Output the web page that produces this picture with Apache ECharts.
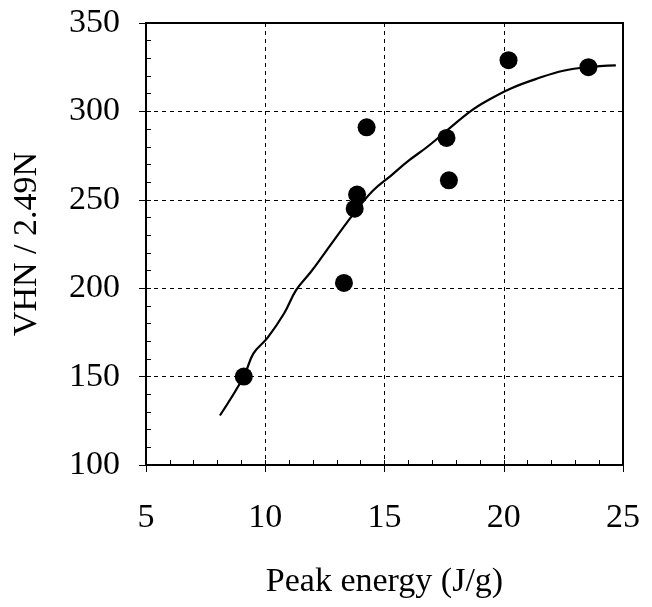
<!DOCTYPE html>
<html>
<head>
<meta charset="utf-8">
<script src="https://cdn.jsdelivr.net/npm/echarts@6/dist/echarts.min.js"></script>
<style>
  html, body { margin: 0; padding: 0; background: #fff; }
  #chart { width: 652px; height: 607px; }
</style>
</head>
<body>
<div id="chart"></div>
<script>
// measured points: peak energy (J/g) vs hardness
const energy = [9.1, 13.3, 13.75, 13.85, 14.25, 17.6, 17.7, 20.2, 23.55]
const hardness = [150, 203, 245, 253, 291, 285, 261, 329, 325]

// fitted curve
const fitX = [8.1, 9.1, 9.5, 10.1, 10.8, 11.3, 11.9, 12.5, 13.7, 14.5, 15.3, 16.0, 16.8, 17.6, 18.6, 19.3, 20.3, 21.5, 22.5, 23.5, 24.7]
const fitY = [128, 150, 163, 172, 186, 199, 209, 220, 242, 255, 264, 272, 280, 289, 300, 306, 313, 319, 323, 325, 326]

const font = 'Liberation Serif, Times New Roman, serif'

const chart = echarts.init(document.getElementById('chart'))

const axisCommon = {
  axisLine: { lineStyle: { color: '#000', width: 2 } },
  axisTick: { show: true, inside: true, length: 5, lineStyle: { color: '#000', width: 1 } },
  minorTick: { show: true, splitNumber: 5, length: 5, lineStyle: { color: '#000', width: 1 } },
  splitLine: { show: true, lineStyle: { color: '#000', width: 1, type: [4, 4] } },
  axisLabel: { color: '#000', fontFamily: font, fontSize: 34 },
  nameTextStyle: { color: '#000', fontFamily: font, fontSize: 34 },
}

// overlay axes only for the outward major ticks
const outerTicks = {
  axisLine: { show: false },
  axisTick: { show: true, inside: false, length: 7, lineStyle: { color: '#000', width: 1 } },
  axisLabel: { show: false },
  splitLine: { show: false },
}

chart.setOption({
  animation: false,
  grid: {
    left: 146,
    right: 29,
    top: 23,
    bottom: 142,
    show: true,
    borderColor: '#000',
    borderWidth: 2,
  },
  xAxis: [
    echarts.util.merge({
      type: 'value',
      min: 5,
      max: 25,
      interval: 5,
      name: 'Peak energy (J/g)',
      nameLocation: 'middle',
      nameGap: 100,
      axisLabel: { margin: 36 },
    }, axisCommon, false),
    echarts.util.merge({
      type: 'value',
      position: 'bottom',
      min: 5,
      max: 25,
      interval: 5,
    }, outerTicks, false),
  ],
  yAxis: [
    echarts.util.merge({
      type: 'value',
      min: 100,
      max: 350,
      interval: 50,
      name: 'VHN / 2.49N',
      nameLocation: 'middle',
      nameGap: 102,
      axisLabel: { margin: 26 },
    }, axisCommon, false),
    echarts.util.merge({
      type: 'value',
      position: 'left',
      min: 100,
      max: 350,
      interval: 50,
    }, outerTicks, false),
  ],
  series: [
    {
      type: 'line',
      data: fitX.map((x, i) => [x, fitY[i]]),
      smooth: 0.4,
      showSymbol: false,
      lineStyle: { color: '#000', width: 2.2 },
      z: 2,
    },
    {
      type: 'scatter',
      data: energy.map((x, i) => [x, hardness[i]]),
      symbol: 'circle',
      symbolSize: 18,
      itemStyle: { color: '#000', opacity: 1 },
      z: 3,
    },
  ],
})
</script>
</body>
</html>
